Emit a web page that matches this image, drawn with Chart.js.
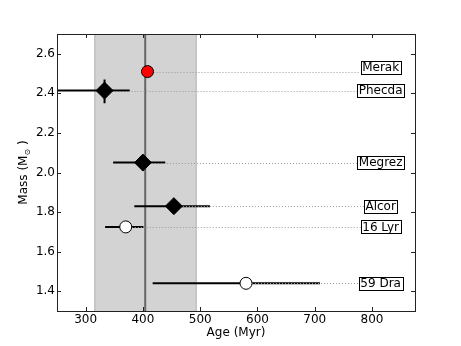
<!DOCTYPE html>
<html>
<head>
<meta charset="utf-8">
<script src="https://cdn.jsdelivr.net/npm/chart.js@4/dist/chart.umd.min.js"></script>
<style>
  html, body { margin: 0; padding: 0; background: #fff; }
  #wrap { width: 461px; height: 346px; }
</style>
</head>
<body>
<div id="wrap"><canvas id="myChart" width="461" height="346"></canvas></div>
<script>
// star data
let names = ["Merak", "Phecda", "Megrez", "Alcor", "16 Lyr", "59 Dra"];
let ages = [408, 333, 400, 454, 370, 580];
let masses = [2.51, 2.414, 2.05, 1.83, 1.725, 1.44];
let ageLo = [null, 200, 348, 385, 334, 417];
let ageHi = [null, 377, 439, 517, 401, 709];
let massLo = [null, 2.35, null, null, null, null];
let massHi = [null, 2.47, null, null, null, null];
let markers = ["red", "diamond", "diamond", "diamond", "open", "open"];
// where the name boxes sit
let labelAge = [815, 815, 815, 815, 815, 815];
let labelMass = [2.53, 2.414, 2.05, 1.83, 1.725, 1.44];
// shaded band and the line inside it
let band = [316, 493];
let bandLine = 404;
let xTicks = [300, 400, 500, 600, 700, 800];
let yTicks = [1.4, 1.6, 1.8, 2.0, 2.2, 2.4, 2.6];

Chart.defaults.font.family = "'DejaVu Sans', sans-serif";
Chart.defaults.font.size = 12;
Chart.defaults.color = "#000";

let points = ages.map((a, i) => ({ x: a, y: masses[i] }));
let styles = markers.map(m => (m == "diamond" ? "rectRot" : "circle"));
let radii = markers.map(m => (m == "diamond" ? 8.5 : 6));
let fills = markers.map(m => (m == "red" ? "#ff0000" : m == "open" ? "#ffffff" : "#000000"));

// band, error bars and dotted leaders under the markers
const underPlugin = {
  id: "under",
  beforeDatasetsDraw(chart) {
    const ctx = chart.ctx;
    const a = chart.chartArea;
    const xs = chart.scales.x, ys = chart.scales.y;
    ctx.save();
    ctx.beginPath();
    ctx.rect(a.left, a.top, a.right - a.left, a.bottom - a.top);
    ctx.clip();
    let b0 = xs.getPixelForValue(band[0]), b1 = xs.getPixelForValue(band[1]);
    ctx.fillStyle = "#d3d3d3";
    ctx.fillRect(b0, a.top, b1 - b0, a.bottom - a.top);
    ctx.strokeStyle = "#b0b0b0";
    ctx.lineWidth = 1;
    ctx.beginPath();
    ctx.moveTo(b0, a.top); ctx.lineTo(b0, a.bottom);
    ctx.moveTo(b1, a.top); ctx.lineTo(b1, a.bottom);
    ctx.stroke();
    let lx = xs.getPixelForValue(bandLine);
    ctx.strokeStyle = "#666";
    ctx.lineWidth = 2;
    ctx.beginPath();
    ctx.moveTo(lx, a.top); ctx.lineTo(lx, a.bottom);
    ctx.stroke();

    // error bars
    ctx.strokeStyle = "#000";
    ctx.lineWidth = 2;
    for (let i = 0; i < names.length; i++) {
      let py = ys.getPixelForValue(masses[i]);
      let px = xs.getPixelForValue(ages[i]);
      if (ageLo[i] !== null) {
        ctx.beginPath();
        ctx.moveTo(xs.getPixelForValue(ageLo[i]), py);
        ctx.lineTo(xs.getPixelForValue(ageHi[i]), py);
        ctx.stroke();
      }
      if (massLo[i] !== null) {
        ctx.beginPath();
        ctx.moveTo(px, ys.getPixelForValue(massLo[i]));
        ctx.lineTo(px, ys.getPixelForValue(massHi[i]));
        ctx.stroke();
      }
    }
    // dotted leaders to the name boxes
    ctx.font = "12px 'DejaVu Sans'";
    ctx.strokeStyle = "#999";
    ctx.lineWidth = 1;
    ctx.setLineDash([1, 2]);
    for (let i = 0; i < names.length; i++) {
      let py = Math.round(ys.getPixelForValue(masses[i])) + 0.5;
      let px = xs.getPixelForValue(ages[i]);
      let w = ctx.measureText(names[i]).width + 3;
      let bx = xs.getPixelForValue(labelAge[i]) - w / 2;
      ctx.beginPath();
      ctx.moveTo(px, py);
      ctx.lineTo(bx, py);
      ctx.stroke();
    }
    ctx.restore();
  },
  afterDraw(chart) {
    const ctx = chart.ctx;
    const a = chart.chartArea;
    const xs = chart.scales.x, ys = chart.scales.y;
    ctx.save();
    // frame
    ctx.strokeStyle = "#222";
    ctx.lineWidth = 1;
    ctx.strokeRect(Math.round(a.left) + 0.5, Math.round(a.top) + 0.5,
      Math.round(a.right - a.left), Math.round(a.bottom - a.top));
    // inward ticks on all four sides
    ctx.beginPath();
    xTicks.forEach(v => {
      let x = Math.round(xs.getPixelForValue(v)) + 0.5;
      ctx.moveTo(x, a.bottom); ctx.lineTo(x, a.bottom - 4);
      ctx.moveTo(x, a.top); ctx.lineTo(x, a.top + 4);
    });
    yTicks.forEach(v => {
      let y = Math.round(ys.getPixelForValue(v)) + 0.5;
      ctx.moveTo(a.left, y); ctx.lineTo(a.left + 4, y);
      ctx.moveTo(a.right, y); ctx.lineTo(a.right - 4, y);
    });
    ctx.stroke();
    // name boxes
    ctx.font = "12px 'DejaVu Sans'";
    ctx.textAlign = "center";
    ctx.textBaseline = "middle";
    for (let i = 0; i < names.length; i++) {
      let cx = xs.getPixelForValue(labelAge[i]);
      let cy = ys.getPixelForValue(labelMass[i]);
      let w = ctx.measureText(names[i]).width + 3;
      let h = 13;
      ctx.fillStyle = "#fff";
      ctx.fillRect(cx - w / 2, cy - h / 2, w, h);
      ctx.strokeStyle = "#000";
      ctx.strokeRect(Math.round(cx - w / 2) + 0.5, Math.round(cy - h / 2) + 0.5, Math.round(w), h);
      ctx.fillStyle = "#000";
      ctx.fillText(names[i], cx, cy + 0.5);
    }
    // y axis title with sun subscript
    ctx.translate(24, (a.top + a.bottom) / 2);
    ctx.rotate(-Math.PI / 2);
    ctx.textAlign = "left";
    let s1 = "Mass (M", s2 = "\u2299", s3 = " )";
    ctx.font = "12px 'DejaVu Sans'";
    let w1 = ctx.measureText(s1).width, w3 = ctx.measureText(s3).width;
    ctx.font = "8px 'DejaVu Sans'";
    let w2 = ctx.measureText(s2).width;
    let x0 = -(w1 + w2 + w3) / 2;
    ctx.font = "12px 'DejaVu Sans'";
    ctx.fillText(s1, x0, 0);
    ctx.fillText(s3, x0 + w1 + w2, 0);
    ctx.font = "8px 'DejaVu Sans'";
    ctx.fillText(s2, x0 + w1, 4);
    ctx.restore();
  },
};

let myChart = new Chart("myChart", {
  type: "scatter",
  data: {
    datasets: [
      {
        data: points,
        pointStyle: styles,
        pointRadius: radii,
        pointHoverRadius: radii,
        pointBackgroundColor: fills,
        pointBorderColor: "#000",
        pointBorderWidth: 1,
      },
    ],
  },
  options: {
    responsive: false,
    animation: false,
    events: [],
    layout: { padding: { top: 34, right: 46, left: 0, bottom: 0 } },
    plugins: { legend: { display: false }, tooltip: { enabled: false } },
    scales: {
      x: {
        min: 250,
        max: 875,
        grid: { display: false, drawTicks: false },
        border: { display: false },
        afterBuildTicks: s => { s.ticks = xTicks.map(v => ({ value: v })); },
        afterFit: s => { s.height = 35; },
        ticks: { padding: 2, maxRotation: 0, callback: v => String(v) },
        title: { display: true, text: "Age (Myr)", padding: { top: 0, bottom: 6 } },
      },
      y: {
        min: 1.3,
        max: 2.7,
        grid: { display: false, drawTicks: false },
        border: { display: false },
        afterBuildTicks: s => { s.ticks = yTicks.map(v => ({ value: v })); },
        afterFit: s => { s.width = 57; },
        ticks: { padding: 2, callback: v => v.toFixed(1) },
      },
    },
  },
  plugins: [underPlugin],
});
</script>
</body>
</html>
